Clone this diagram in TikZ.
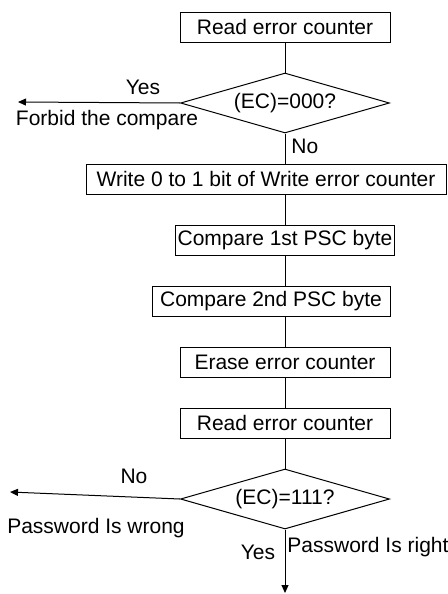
\documentclass[tikz,border=0pt]{standalone}
\usepackage{fontspec}
\setmainfont{Liberation Sans}
\usetikzlibrary{arrows.meta, positioning, shapes.geometric}

\begin{document}
\begin{tikzpicture}[
  x=0.5pt, y=-0.5pt,
  node distance=15pt,
  font=\fontsize{10.5}{12}\selectfont,
  box/.style={draw, line width=0.5pt, minimum width=105pt, minimum height=15pt, inner sep=1pt, align=center},
  test/.style={draw, line width=0.5pt, diamond, aspect=3.5, inner sep=0pt, minimum width=104.5pt, minimum height=30pt},
  line/.style={line width=0.5pt},
  arrow/.style={-{Triangle[length=4pt, width=3.5pt]}, line width=0.5pt}
  ]
\useasboundingbox (0,0) rectangle (448,594);

% Nodes
\node[box] (read1) at (285,27) {Read error counter};
\node[test, below=of read1] (check1) {(EC)=000?};
\node[box, below=of check1, minimum width=180pt, xshift=-9.5pt] (write) {Write 0 to 1 bit of Write error counter};
\node[box, below=of write, xshift=9.5pt] (cmp1) {Compare 1st PSC byte};
\node[box, below=of cmp1, minimum width=119pt, xshift=-7pt] (cmp2) {Compare 2nd PSC byte};
\node[box, below=of cmp2, xshift=7pt] (erase) {Erase error counter};
\node[box, below=of erase] (read2) {Read error counter};
\node[test, below=of read2] (check2) {(EC)=111?};

\coordinate (forbid) at (18,102);
\coordinate (wrong) at (10,492);
\coordinate (right) at (285,593);

% Arrows
\draw[line] (read1) -- (check1);
\draw[arrow] (check1.west) -- (forbid);
\draw[line] (check1.south) -- (check1.south |- write.north);
\draw[line] (cmp1.north |- write.south) -- (cmp1);
\draw[line] (cmp1.south) -- (cmp1.south |- cmp2.north);
\draw[line] (erase.north |- cmp2.south) -- (erase);
\draw[line] (erase) -- (read2);
\draw[line] (read2) -- (check2);
\draw[arrow] (check2.west) -- (wrong);
\draw[arrow] (check2.south) -- (right);

% Labels
\node (yes1) at (143,87) {Yes};
\node (forbidtxt) at (107,120) {Forbid the compare};
\node[anchor=west, inner sep=1pt] (no1) at (289,146) {No};
\node (no2) at (134,476) {No};
\node (wrongtxt) at (96,528) {Password Is wrong};
\node (yes2) at (258,552) {Yes};
\node (righttxt) at (368,547) {Password Is right};

\end{tikzpicture}
\end{document}
